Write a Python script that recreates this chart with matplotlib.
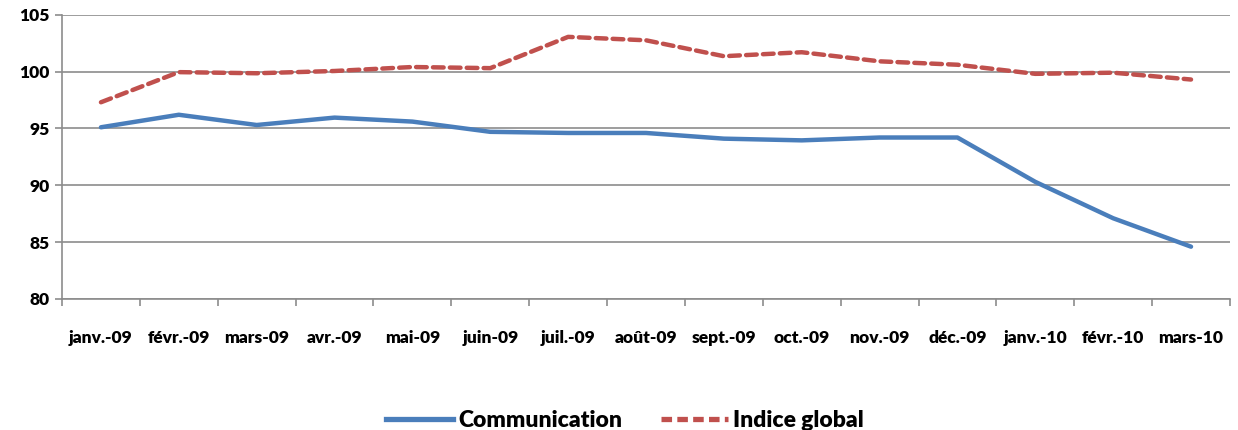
import matplotlib.pyplot as plt
from matplotlib.lines import Line2D

plt.rcParams['font.family'] = ['Lato', 'DejaVu Sans']

months = ['janv.-09', 'févr.-09', 'mars-09', 'avr.-09', 'mai-09', 'juin-09', 'juil.-09',
          'août-09', 'sept.-09', 'oct.-09', 'nov.-09', 'déc.-09', 'janv.-10', 'févr.-10', 'mars-10']
communication = [95.1, 96.2, 95.3, 95.95, 95.6, 94.7, 94.6, 94.6, 94.1, 93.95, 94.2, 94.2, 90.3, 87.1, 84.6]
indice_global = [97.3, 99.95, 99.85, 100.05, 100.4, 100.3, 103.05, 102.75, 101.35, 101.7, 100.9, 100.6, 99.8, 99.9, 99.3]

blue = '#4A7EBB'
red = '#C0504D'
grid_col = '#8C8C8C'

fig = plt.figure(figsize=(12.38, 4.30), dpi=100)
ax = fig.add_axes([0.0501, 0.3047, 0.9434, 0.6611])

x = list(range(len(months)))
ax.plot(x, communication, color=blue, lw=3.2, solid_capstyle='round', solid_joinstyle='round', zorder=3)
ax.plot(x, indice_global, color=red, lw=3.2, linestyle=(0, (2.4, 1.4)),
        dash_capstyle='round', dash_joinstyle='round', zorder=3)

ax.set_xlim(-0.5, len(months) - 0.5)
ax.set_ylim(80, 105)
ax.set_yticks(range(80, 106, 5))
ax.set_xticks(x)
ax.set_xticklabels(months)
ax.set_xticks([i - 0.5 for i in range(len(months) + 1)], minor=True)

ax.grid(axis='y', color=grid_col, lw=1.2)
ax.set_axisbelow(True)
for s in ['top', 'right']:
    ax.spines[s].set_visible(False)
for s in ['left', 'bottom']:
    ax.spines[s].set_color(grid_col)
    ax.spines[s].set_linewidth(1.2)

ax.tick_params(axis='x', which='major', length=0, pad=22, labelsize=12.5)
ax.tick_params(axis='x', which='minor', length=5, color=grid_col, width=1.2)
ax.tick_params(axis='y', length=5, color=grid_col, width=1.2, labelsize=12.5, pad=4)
for lab in ax.get_xticklabels() + ax.get_yticklabels():
    lab.set_fontweight('heavy')

handles = [Line2D([], [], color=blue, lw=3.8),
           Line2D([], [], color=red, lw=3.8, linestyle=(0, (2.0, 1.0)))]
fig.legend(handles, ['Communication', 'Indice global'], loc='center', bbox_to_anchor=(0.505, 0.022),
           ncol=2, frameon=False, handlelength=2.9, handletextpad=0.25, columnspacing=1.7,
           prop={'weight': 'heavy', 'size': 16.5})

fig.savefig('out.png', dpi=100)
